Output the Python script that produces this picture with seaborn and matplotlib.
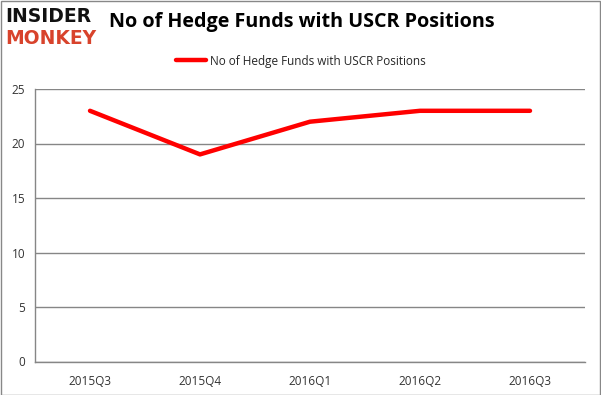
import matplotlib
matplotlib.use("Agg")
import matplotlib.pyplot as plt
import seaborn as sns
import pandas as pd
from matplotlib.patches import Rectangle

quarters = ["2015Q3", "2015Q4", "2016Q1", "2016Q2", "2016Q3"]
funds = [23, 19, 22, 23, 23]
series_name = "No of Hedge Funds with USCR Positions"
yticks = [0, 5, 10, 15, 20, 25]

sns.set_theme(style="white")
plt.rcParams['font.family'] = ['Open Sans', 'DejaVu Sans']

df = pd.DataFrame({"Quarter": quarters, "Funds": funds})

W, H = 601, 395
fig = plt.figure(figsize=(W / 100, H / 100), dpi=100)
ax = fig.add_axes([35 / W, (H - 361.5) / H, 550 / W, (361.5 - 89) / H])

sns.lineplot(data=df, x="Quarter", y="Funds", ax=ax, color="#ff0000",
             linewidth=3.2, label=series_name, sort=False)

grid_c = "#868686"
ax.set_ylim(0, 25)
ax.set_xlim(-0.5, len(quarters) - 0.5)
ax.set_yticks(yticks)
ax.set_yticklabels([str(v) for v in yticks], fontsize=8.5, color="#333333")
ax.set_xticks(range(len(quarters)))
ax.set_xticklabels(quarters, fontsize=8.5, color="#333333")
ax.set_xticks([i - 0.5 for i in range(len(quarters) + 1)], minor=True)
ax.tick_params(axis="x", which="major", length=0, pad=10)
ax.tick_params(axis="x", which="minor", length=4, color=grid_c, width=1, direction="out")
ax.tick_params(axis="y", which="major", length=4, color=grid_c, width=1, direction="out", pad=3)
ax.yaxis.grid(True, color=grid_c, linewidth=1)
ax.set_axisbelow(True)
for s in ["top", "right"]:
    ax.spines[s].set_visible(False)
for s in ["left", "bottom"]:
    ax.spines[s].set_color(grid_c)
    ax.spines[s].set_linewidth(1)
ax.set_xlabel("")
ax.set_ylabel("")

leg = ax.legend(loc="center", bbox_to_anchor=(0.5, (H - 61) / H), bbox_transform=fig.transFigure,
                frameon=False, fontsize=8.5, handlelength=2.6, handletextpad=0.3)

fig.text(302 / W, 1 - 22 / H, "No of Hedge Funds with USCR Positions", ha="center", va="center",
         fontsize=14.2, fontweight="bold", color="#000000")

fig.text(5 / W, 1 - 16 / H, "INSIDER", ha="left", va="center", fontsize=13.5,
         fontweight="black", color="#111111", family=["DejaVu Sans"])
fig.text(5 / W, 1 - 38 / H, "MONKEY", ha="left", va="center", fontsize=13.5,
         fontweight="black", color="#d8432c", family=["DejaVu Sans"])

fig.patches.append(Rectangle((0.5 / W, 0.5 / H), 1 - 1.5 / W, 1 - 1.5 / H, transform=fig.transFigure,
                             fill=False, edgecolor="#888888", linewidth=1))

fig.savefig("out.png", dpi=100)
